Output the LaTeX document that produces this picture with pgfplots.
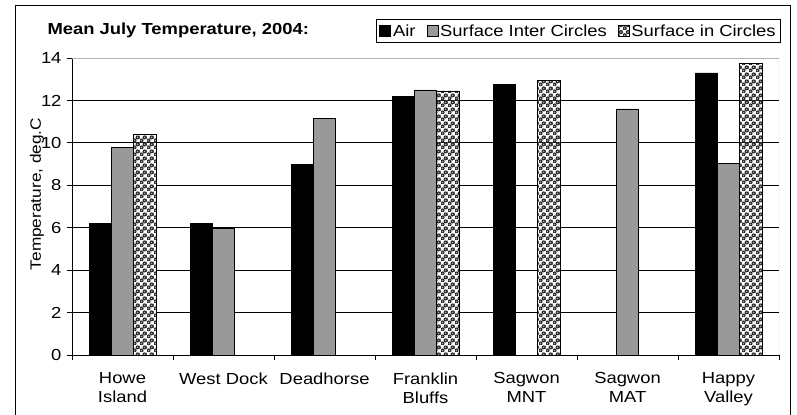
\documentclass[border=0pt]{standalone}
\usepackage{fontspec}
\setmainfont{Liberation Sans}[FakeStretch=1.15]
\usepackage{pgfplots}
\pgfplotsset{compat=1.18}
\usetikzlibrary{patterns}

\definecolor{bargray}{RGB}{153,153,153}

% Excel-like "spheres" fill: dark balls with a light spot, on white
\pgfdeclarepatterninherentlycolored{spheres}{\pgfpointorigin}{\pgfqpoint{7bp}{7bp}}{\pgfqpoint{7bp}{7bp}}{
  \pgfsetfillcolor{white}
  \pgfpathrectangle{\pgfpointorigin}{\pgfqpoint{7bp}{7bp}}
  \pgfusepath{fill}
  \pgfsetfillcolor{black!85}
  \pgfpathcircle{\pgfqpoint{1.75bp}{1.75bp}}{2.3bp}
  \pgfpathcircle{\pgfqpoint{5.25bp}{5.25bp}}{2.3bp}
  \pgfusepath{fill}
  \pgfsetfillcolor{black!35}
  \pgfpathcircle{\pgfqpoint{1.75bp}{1.75bp}}{1.0bp}
  \pgfpathcircle{\pgfqpoint{5.25bp}{5.25bp}}{1.0bp}
  \pgfusepath{fill}
}

\begin{document}
\begin{tikzpicture}
  \useasboundingbox (0,0) rectangle (797bp,415bp);
  \draw[black, line width=0.8bp] (15bp,0) -- (15bp,410bp) -- (790bp,410bp) -- (790bp,0);

  \node[anchor=base west, font=\fontsize{16bp}{18bp}\selectfont\bfseries]
    at (44bp,380bp) {Mean July Temperature, 2004:};
  \node[rotate=90, font=\fontsize{15bp}{18bp}\selectfont]
    at (37bp,221bp) {Temperature, deg.C};

  \begin{axis}[
    at={(72bp,60bp)}, anchor=south west,
    scale only axis,
    width=707bp, height=297bp,
    ybar=0pt, bar width=22.3bp,
    xmin=-0.5, xmax=6.5,
    ymin=0, ymax=14,
    axis lines=left,
    axis line style={-, black, line width=0.8bp},
    tick align=outside,
    major tick length=5bp,
    tick style={black, line width=0.8bp},
    xtick={-0.5,0.5,...,6.5},
    xticklabels={},
    extra x ticks={0,1,2,3,4,5,6},
    extra x tick labels={Howe\\Island, West Dock, Deadhorse, Franklin\\Bluffs, Sagwon\\MNT, Sagwon\\MAT, Happy\\Valley},
    extra x tick style={major tick length=0pt, grid=none},
    ytick={0,2,...,12},
    extra y ticks={14},
    extra y tick style={grid=none},
    ymajorgrids,
    grid style={black, line width=0.8bp},
    /pgf/number format/assume math mode=true,
    tick label style={font=\fontsize{16bp}{19bp}\selectfont},
    xticklabel style={align=center, yshift=-14bp},
    yticklabel style={xshift=-2bp},
    legend columns=3,
    legend style={at={(1,1)}, anchor=south east, xshift=2bp, yshift=15bp,
      draw=black, line width=0.8bp, inner sep=3bp,
      font=\fontsize{16bp}{18bp}\selectfont,
      /tikz/every even column/.append style={column sep=9bp}},
    legend image code/.code={\draw[#1, line width=0.6bp] (0bp,-5bp) rectangle (11bp,6bp);},
  ]
    \addplot[fill=black, draw=black, line width=0.6bp] coordinates {
      (0,6.2) (1,6.2) (2,9.0) (3,12.2) (4,12.75) (6,13.3)
    };
    \addplot[fill=bargray, draw=black, line width=0.6bp] coordinates {
      (0,9.8) (1,5.95) (2,11.15) (3,12.5) (5,11.6) (6,9.05)
    };
    \addplot[draw=black, line width=0.6bp, pattern=spheres] coordinates {
      (0,10.4) (3,12.45) (4,12.95) (6,13.75)
    };
    \legend{Air, Surface Inter Circles, Surface in Circles}
    \draw[gray!60, line width=0.8bp] (rel axis cs:0,1) -- (rel axis cs:1,1) -- (rel axis cs:1,0);
  \end{axis}
\end{tikzpicture}
\end{document}
